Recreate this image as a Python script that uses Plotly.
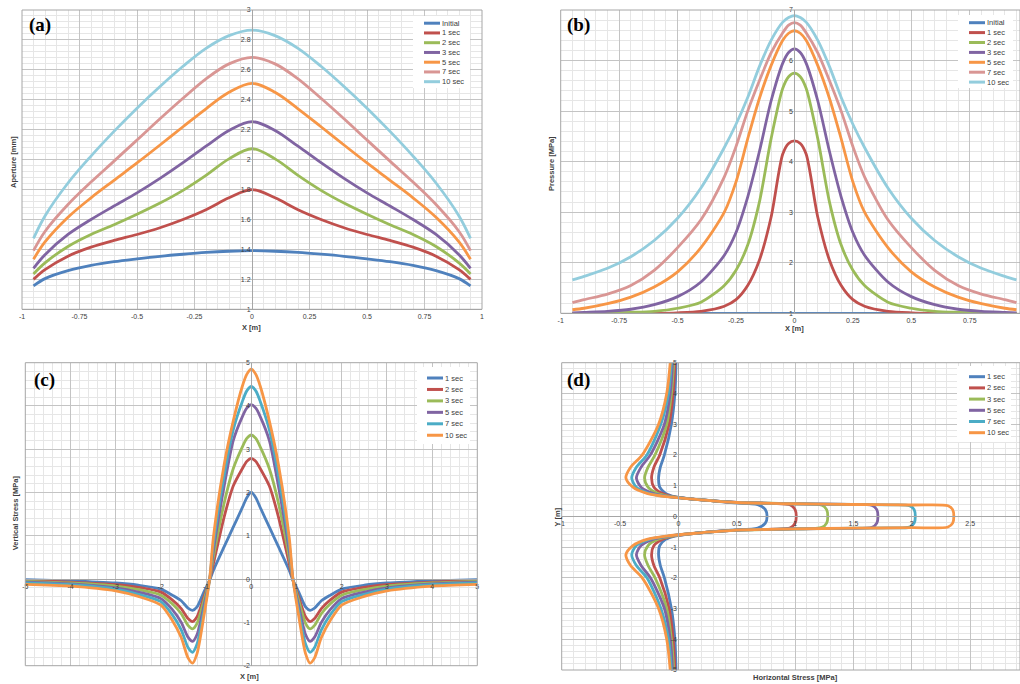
import plotly.graph_objects as go

W, H = 1020, 684

# ---------------- data ----------------
A_X = [-0.95, -0.9, -0.8, -0.7, -0.6, -0.5, -0.4, -0.3, -0.2, -0.1, 0,
       0.1, 0.2, 0.3, 0.4, 0.5, 0.6, 0.7, 0.8, 0.9, 0.95]
A_INITIAL = [1.156, 1.205, 1.258, 1.293, 1.318, 1.337, 1.354, 1.368, 1.380, 1.388, 1.392,
             1.388, 1.380, 1.368, 1.354, 1.337, 1.318, 1.293, 1.258, 1.205, 1.156]
A_1S = [1.20, 1.265, 1.355, 1.415, 1.46, 1.50, 1.545, 1.60, 1.665, 1.745, 1.80,
        1.745, 1.665, 1.60, 1.545, 1.50, 1.46, 1.415, 1.355, 1.265, 1.20]
A_2S = [1.236, 1.31, 1.42, 1.50, 1.565, 1.635, 1.71, 1.795, 1.895, 2.005, 2.073,
        2.005, 1.895, 1.795, 1.71, 1.635, 1.565, 1.50, 1.42, 1.31, 1.236]
A_3S = [1.274, 1.365, 1.50, 1.60, 1.69, 1.778, 1.875, 1.98, 2.09, 2.195, 2.254,
        2.195, 2.09, 1.98, 1.875, 1.778, 1.69, 1.60, 1.50, 1.365, 1.274]
A_5S = [1.334, 1.45, 1.615, 1.745, 1.862, 1.978, 2.098, 2.22, 2.34, 2.45, 2.51,
        2.45, 2.34, 2.22, 2.098, 1.978, 1.862, 1.745, 1.615, 1.45, 1.334]
A_7S = [1.392, 1.52, 1.70, 1.85, 1.99, 2.131, 2.273, 2.41, 2.54, 2.64, 2.684,
        2.64, 2.54, 2.41, 2.273, 2.131, 1.99, 1.85, 1.70, 1.52, 1.392]
A_10S = [1.474, 1.624, 1.844, 2.024, 2.189, 2.344, 2.489, 2.624, 2.744, 2.829, 2.866,
         2.829, 2.744, 2.624, 2.489, 2.344, 2.189, 2.024, 1.844, 1.624, 1.474]

B_X = [-0.95, -0.9, -0.8, -0.7, -0.6, -0.5, -0.4, -0.3, -0.25, -0.2, -0.15, -0.1, -0.05, -0.025, 0,
       0.025, 0.05, 0.1, 0.15, 0.2, 0.25, 0.3, 0.4, 0.5, 0.6, 0.7, 0.8, 0.9, 0.95]
B_INITIAL = [1.0] * 29
B_1S = [1.0, 1.0, 1.0, 1.0, 1.0, 1.01, 1.04, 1.14, 1.27, 1.55, 2.05, 2.9, 4.15, 4.36, 4.41,
        4.36, 4.15, 2.9, 2.05, 1.55, 1.27, 1.14, 1.04, 1.01, 1.0, 1.0, 1.0, 1.0, 1.0]
B_2S = [1.0, 1.0, 1.01, 1.02, 1.04, 1.1, 1.22, 1.55, 1.85, 2.35, 3.2, 4.45, 5.45, 5.68, 5.75,
        5.68, 5.45, 4.45, 3.2, 2.35, 1.85, 1.55, 1.22, 1.1, 1.04, 1.02, 1.01, 1.0, 1.0]
B_3S = [1.01, 1.02, 1.04, 1.08, 1.17, 1.33, 1.62, 2.15, 2.6, 3.3, 4.2, 5.2, 5.95, 6.16, 6.23,
        6.16, 5.95, 5.2, 4.2, 3.3, 2.6, 2.15, 1.62, 1.33, 1.17, 1.08, 1.04, 1.02, 1.01]
B_5S = [1.07, 1.1, 1.19, 1.32, 1.52, 1.82, 2.3, 3.0, 3.6, 4.45, 5.25, 5.9, 6.4, 6.54, 6.59,
        6.54, 6.4, 5.9, 5.25, 4.45, 3.6, 3.0, 2.3, 1.82, 1.52, 1.32, 1.19, 1.1, 1.07]
B_7S = [1.21, 1.27, 1.38, 1.55, 1.85, 2.3, 2.85, 3.7, 4.3, 5.0, 5.6, 6.15, 6.55, 6.7, 6.75,
        6.7, 6.55, 6.15, 5.6, 5.0, 4.3, 3.7, 2.85, 2.3, 1.85, 1.55, 1.38, 1.27, 1.21]
B_10S = [1.66, 1.73, 1.89, 2.12, 2.44, 2.88, 3.48, 4.28, 4.74, 5.27, 5.88, 6.4, 6.76, 6.85, 6.89,
         6.85, 6.76, 6.4, 5.88, 5.27, 4.74, 4.28, 3.48, 2.88, 2.44, 2.12, 1.89, 1.73, 1.66]

C_X = [-5, -4, -3, -2.5, -2, -1.75, -1.55, -1.4, -1.3, -1.2, -1.05, -0.92, -0.84, -0.6, -0.4, -0.2, -0.1, 0,
       0.1, 0.2, 0.4, 0.6, 0.84, 0.92, 1.05, 1.2, 1.3, 1.4, 1.55, 1.75, 2, 2.5, 3, 4, 5]
C_1S = [-0.01, -0.04, -0.09, -0.14, -0.23, -0.37, -0.5, -0.67, -0.72, -0.64, -0.3, -0.02, 0.2, 0.75, 1.2, 1.65, 1.88, 2.01,
        1.88, 1.65, 1.2, 0.75, 0.2, -0.02, -0.3, -0.64, -0.72, -0.67, -0.5, -0.37, -0.23, -0.14, -0.09, -0.04, -0.01]
C_2S = [-0.03, -0.07, -0.13, -0.19, -0.3, -0.48, -0.68, -0.91, -0.98, -0.87, -0.42, -0.01, 0.35, 1.44, 2.15, 2.55, 2.72, 2.79,
        2.72, 2.55, 2.15, 1.44, 0.35, -0.01, -0.42, -0.87, -0.98, -0.91, -0.68, -0.48, -0.3, -0.19, -0.13, -0.07, -0.03]
C_3S = [-0.05, -0.09, -0.16, -0.24, -0.37, -0.57, -0.8, -1.07, -1.15, -1.02, -0.5, 0.0, 0.5, 1.76, 2.55, 3.05, 3.25, 3.33,
        3.25, 3.05, 2.55, 1.76, 0.5, 0.0, -0.5, -1.02, -1.15, -1.07, -0.8, -0.57, -0.37, -0.24, -0.16, -0.09, -0.05]
C_5S = [-0.07, -0.11, -0.2, -0.3, -0.45, -0.7, -1.0, -1.34, -1.44, -1.28, -0.62, 0.0, 0.65, 2.15, 3.2, 3.75, 3.95, 4.03,
        3.95, 3.75, 3.2, 2.15, 0.65, 0.0, -0.62, -1.28, -1.44, -1.34, -1.0, -0.7, -0.45, -0.3, -0.2, -0.11, -0.07]
C_7S = [-0.09, -0.13, -0.23, -0.35, -0.52, -0.82, -1.17, -1.58, -1.69, -1.5, -0.74, 0.01, 0.8, 2.4, 3.45, 4.1, 4.35, 4.45,
        4.35, 4.1, 3.45, 2.4, 0.8, 0.01, -0.74, -1.5, -1.69, -1.58, -1.17, -0.82, -0.52, -0.35, -0.23, -0.13, -0.09]
C_10S = [-0.12, -0.16, -0.27, -0.4, -0.6, -0.95, -1.35, -1.82, -1.94, -1.72, -0.86, 0.02, 0.95, 2.65, 3.65, 4.45, 4.73, 4.85,
         4.73, 4.45, 3.65, 2.65, 0.95, 0.02, -0.86, -1.72, -1.94, -1.82, -1.35, -0.95, -0.6, -0.4, -0.27, -0.16, -0.12]

# panel (d): horizontal stress (x) along Y position (y), path top to bottom
D_1S_X = [-0.02, -0.03, -0.06, -0.12, -0.155, -0.17, -0.16, -0.11, -0.03,
          0.15, 0.45, 0.68, 0.745, 0.76, 0.745, 0.68, 0.45, 0.15,
          -0.03, -0.11, -0.16, -0.17, -0.155, -0.12, -0.06, -0.03, -0.02]
D_1S_Y = [5, 4, 3, 2, 1.6, 1.25, 0.95, 0.75, 0.64,
          0.55, 0.45, 0.38, 0.22, 0, -0.22, -0.38, -0.45, -0.55,
          -0.64, -0.75, -0.95, -1.25, -1.6, -2, -3, -4, -5]
D_2S_X = [-0.03, -0.045, -0.08, -0.16, -0.21, -0.23, -0.21, -0.14, -0.05,
          0.15, 0.5, 0.8, 0.96, 1.0, 1.01, 1.0, 0.96, 0.8, 0.5, 0.15,
          -0.05, -0.14, -0.21, -0.23, -0.21, -0.16, -0.08, -0.045, -0.03]
D_2S_Y = [5, 4, 3, 2, 1.6, 1.25, 0.95, 0.75, 0.64,
          0.55, 0.45, 0.42, 0.37, 0.22, 0, -0.22, -0.37, -0.42, -0.45, -0.55,
          -0.64, -0.75, -0.95, -1.25, -1.6, -2, -3, -4, -5]
D_3S_X = [-0.04, -0.06, -0.1, -0.2, -0.26, -0.29, -0.26, -0.18, -0.06,
          0.15, 0.5, 1.0, 1.23, 1.27, 1.28, 1.27, 1.23, 1.0, 0.5, 0.15,
          -0.06, -0.18, -0.26, -0.29, -0.26, -0.2, -0.1, -0.06, -0.04]
D_3S_Y = [5, 4, 3, 2, 1.6, 1.25, 0.95, 0.75, 0.64,
          0.55, 0.45, 0.41, 0.36, 0.22, 0, -0.22, -0.36, -0.41, -0.45, -0.55,
          -0.64, -0.75, -0.95, -1.25, -1.6, -2, -3, -4, -5]
D_5S_X = [-0.05, -0.07, -0.12, -0.24, -0.32, -0.36, -0.32, -0.22, -0.08,
          0.15, 0.5, 1.0, 1.45, 1.66, 1.70, 1.71, 1.70, 1.66, 1.45, 1.0, 0.5, 0.15,
          -0.08, -0.22, -0.32, -0.36, -0.32, -0.24, -0.12, -0.07, -0.05]
D_5S_Y = [5, 4, 3, 2, 1.6, 1.25, 0.95, 0.75, 0.64,
          0.55, 0.45, 0.41, 0.39, 0.355, 0.22, 0, -0.22, -0.355, -0.39, -0.41, -0.45, -0.55,
          -0.64, -0.75, -0.95, -1.25, -1.6, -2, -3, -4, -5]
D_7S_X = [-0.06, -0.085, -0.15, -0.27, -0.36, -0.40, -0.36, -0.25, -0.09,
          0.15, 0.5, 1.0, 1.5, 1.8, 1.98, 2.02, 2.03, 2.02, 1.98, 1.8, 1.5, 1.0, 0.5, 0.15,
          -0.09, -0.25, -0.36, -0.40, -0.36, -0.27, -0.15, -0.085, -0.06]
D_7S_Y = [5, 4, 3, 2, 1.6, 1.25, 0.95, 0.75, 0.64,
          0.55, 0.45, 0.41, 0.385, 0.375, 0.35, 0.22, 0, -0.22, -0.35, -0.375, -0.385, -0.41, -0.45, -0.55,
          -0.64, -0.75, -0.95, -1.25, -1.6, -2, -3, -4, -5]
D_10S_X = [-0.07, -0.1, -0.17, -0.31, -0.41, -0.45, -0.39, -0.27, -0.1,
           0.15, 0.5, 1.0, 1.5, 2.0, 2.31, 2.35, 2.36, 2.35, 2.31, 2.0, 1.5, 1.0, 0.5, 0.15,
           -0.1, -0.27, -0.39, -0.45, -0.41, -0.31, -0.17, -0.1, -0.07]
D_10S_Y = [5, 4, 3, 2, 1.6, 1.25, 0.95, 0.75, 0.64,
           0.55, 0.45, 0.41, 0.385, 0.37, 0.345, 0.22, 0, -0.22, -0.345, -0.37, -0.385, -0.41, -0.45, -0.55,
           -0.64, -0.75, -0.95, -1.25, -1.6, -2, -3, -4, -5]

NAMES_AB = ["Initial", "1 sec", "2 sec", "3 sec", "5 sec", "7 sec", "10 sec"]
COLORS_AB = ["#4F81BD", "#C0504D", "#9BBB59", "#8064A2", "#F79646", "#D99694", "#93CDDD"]
NAMES_CD = ["1 sec", "2 sec", "3 sec", "5 sec", "7 sec", "10 sec"]
COLORS_CD = ["#4F81BD", "#C0504D", "#9BBB59", "#8064A2", "#4BACC6", "#F79646"]

A_XTICKS = [-1, -0.75, -0.5, -0.25, 0, 0.25, 0.5, 0.75, 1]
A_XTEXT = ["-1", "-0.75", "-0.5", "-0.25", "0", "0.25", "0.5", "0.75", "1"]
A_YTICKS = [1, 1.2, 1.4, 1.6, 1.8, 2, 2.2, 2.4, 2.6, 2.8, 3]
A_YTEXT = ["1", "1.2", "1.4", "1.6", "1.8", "2", "2.2", "2.4", "2.6", "2.8", "3"]
B_YTICKS = [1, 2, 3, 4, 5, 6, 7]
B_YTEXT = ["1", "2", "3", "4", "5", "6", "7"]
C_XTICKS = [-5, -4, -3, -2, -1, 0, 1, 2, 3, 4, 5]
C_XTEXT = ["-5", "-4", "-3", "-2", "-1", "0", "1", "2", "3", "4", "5"]
C_YTICKS = [-2, -1, 0, 1, 2, 3, 4, 5]
C_YTEXT = ["-2", "-1", "0", "1", "2", "3", "4", "5"]
D_XTICKS = [-1, -0.5, 0, 0.5, 1, 1.5, 2, 2.5]
D_XTEXT = ["-1", "-0.5", "0", "0.5", "1", "1.5", "2", "2.5"]
D_YTICKS = [-5, -4, -3, -2, -1, 0, 1, 2, 3, 4, 5]
D_YTEXT = ["-5", "-4", "-3", "-2", "-1", "0", "1", "2", "3", "4", "5"]


def px(x):
    return x / W


def py(y):
    return 1 - y / H


fig = go.Figure()
LW = 2.8

for name, col, ys in zip(NAMES_AB, COLORS_AB, [A_INITIAL, A_1S, A_2S, A_3S, A_5S, A_7S, A_10S]):
    fig.add_trace(go.Scatter(x=A_X, y=ys, name=name, mode="lines",
                             line=dict(color=col, width=LW, shape="spline", smoothing=1.0),
                             xaxis="x", yaxis="y", showlegend=False))
for name, col, ys in zip(NAMES_AB, COLORS_AB, [B_INITIAL, B_1S, B_2S, B_3S, B_5S, B_7S, B_10S]):
    fig.add_trace(go.Scatter(x=B_X, y=ys, name=name, mode="lines",
                             line=dict(color=col, width=LW, shape="spline", smoothing=0.8),
                             xaxis="x2", yaxis="y2", showlegend=False))
for name, col, ys in zip(NAMES_CD, COLORS_CD, [C_1S, C_2S, C_3S, C_5S, C_7S, C_10S]):
    fig.add_trace(go.Scatter(x=C_X, y=ys, name=name, mode="lines",
                             line=dict(color=col, width=LW, shape="spline", smoothing=0.7),
                             xaxis="x3", yaxis="y3", showlegend=False))
D_SERIES = [(D_1S_X, D_1S_Y), (D_2S_X, D_2S_Y), (D_3S_X, D_3S_Y),
            (D_5S_X, D_5S_Y), (D_7S_X, D_7S_Y), (D_10S_X, D_10S_Y)]
for name, col, (xs, ys) in zip(NAMES_CD, COLORS_CD, D_SERIES):
    fig.add_trace(go.Scatter(x=xs, y=ys, name=name, mode="lines",
                             line=dict(color=col, width=LW, shape="spline", smoothing=0.8),
                             xaxis="x4", yaxis="y4", showlegend=False))

TICKFONT = dict(family="Liberation Sans", size=7, color="#404040")
MAJ = "#c4c4c4"
MIN = "#e6e6e6"


def ax(domain, rng, tickvals, ticktext, minor_dtick, **kw):
    d = dict(domain=domain, range=rng, tickmode="array", tickvals=tickvals, ticktext=ticktext,
             showgrid=True, gridcolor=MAJ, gridwidth=1, zeroline=False, automargin=False,
             tickfont=TICKFONT, showline=True, linecolor="#a6a6a6", linewidth=1,
             ticks="", fixedrange=True,
             minor=dict(tickmode="linear", tick0=rng[0], dtick=minor_dtick, showgrid=True,
                        gridcolor=MIN, gridwidth=1))
    d.update(kw)
    return d


# panel (a)
ax_dom = [px(22), px(482)]
ay_dom = [py(309.3), py(10)]
# panel (b)
bx_dom = [px(560.7), 1.0]
by_dom = [py(313.3), py(10)]
# panel (c)
cx_dom = [px(25.3), px(477.3)]
cy_dom = [py(665.7), py(362.7)]
# panel (d)
dx_dom = [px(561.7), 1.0]
dy_dom = [py(670), py(362.7)]

fig.update_layout(
    width=W, height=H, margin=dict(l=0, r=0, t=0, b=0, autoexpand=False),
    paper_bgcolor="white", plot_bgcolor="white", showlegend=False,
    xaxis=ax(ax_dom, [-1, 1], A_XTICKS, A_XTEXT, 0.05, anchor="y"),
    yaxis=ax(ay_dom, [1, 3], A_YTICKS, A_YTEXT, 0.04, anchor="free", position=px(252)),
    xaxis2=ax(bx_dom, [-1, 0.965], A_XTICKS, A_XTEXT, 0.05, anchor="y2"),
    yaxis2=ax(by_dom, [1, 7], B_YTICKS, B_YTEXT, 0.2, anchor="free", position=px(794.4)),
    xaxis3=ax(cx_dom, [-5, 5], C_XTICKS, C_XTEXT, 0.2, anchor="free", position=py(579.3)),
    yaxis3=ax(cy_dom, [-2, 5], C_YTICKS, C_YTEXT, 0.2, anchor="free", position=px(251.3)),
    xaxis4=ax(dx_dom, [-1, 2.927], D_XTICKS, D_XTEXT, 0.1, anchor="free", position=py(516.3)),
    yaxis4=ax(dy_dom, [-5, 5], D_YTICKS, D_YTEXT, 0.2, anchor="free", position=px(678.3)),
)

shapes = []
annotations = []
# plot-area borders
for xd, yd in [(ax_dom, ay_dom), (bx_dom, by_dom), (cx_dom, cy_dom), (dx_dom, dy_dom)]:
    shapes.append(dict(type="rect", xref="paper", yref="paper", x0=xd[0], x1=xd[1], y0=yd[0], y1=yd[1],
                       line=dict(color="#a6a6a6", width=1), layer="above"))


def legend(x0, y0, step, box, names, colors):
    shapes.append(dict(type="rect", xref="paper", yref="paper",
                       x0=px(box[0]), x1=px(box[1]), y0=py(box[3]), y1=py(box[2]),
                       fillcolor="white", line=dict(width=0), layer="above"))
    for i, (n, c) in enumerate(zip(names, colors)):
        yy = y0 + i * step
        shapes.append(dict(type="line", xref="paper", yref="paper",
                           x0=px(x0), x1=px(x0 + 16), y0=py(yy), y1=py(yy),
                           line=dict(color=c, width=3), layer="above"))
        annotations.append(dict(x=px(x0 + 15.5), y=py(yy), xref="paper", yref="paper", text=n,
                                showarrow=False, xanchor="left", yanchor="middle",
                                font=dict(family="Liberation Sans", size=7.5, color="#404040")))


legend(424, 23.2, 9.75, (413, 470, 16, 88), NAMES_AB, COLORS_AB)
legend(969, 22.7, 9.9, (958, 1013, 15, 88), NAMES_AB, COLORS_AB)
legend(427, 378, 11.45, (417, 470, 367, 444), NAMES_CD, COLORS_CD)
legend(969, 376.7, 11.2, (957, 1011, 366, 442), NAMES_CD, COLORS_CD)


def title(x, y, text, angle=0):
    annotations.append(dict(x=px(x), y=py(y), xref="paper", yref="paper", text="<b>" + text + "</b>",
                            showarrow=False, textangle=angle, xanchor="center", yanchor="middle",
                            font=dict(family="Liberation Sans", size=7.5, color="#404040")))


title(251.7, 327.5, "X [m]")
title(13.3, 161.7, "Aperture [mm]", -90)
title(794, 328, "X [m]")
title(551.7, 163.3, "Pressure [MPa]", -90)
title(249.3, 676.7, "X [m]")
title(15, 513.3, "Vertical Stress [MPa]", -90)
title(795, 677.5, "Horizontal Stress [MPa]")
title(557.7, 516.7, "Y [m]", -90)

for lab, x, y in [("(a)", 40, 25), ("(b)", 578, 25), ("(c)", 44, 380), ("(d)", 578, 380)]:
    annotations.append(dict(x=px(x), y=py(y), xref="paper", yref="paper", text="<b>" + lab + "</b>",
                            showarrow=False, xanchor="center", yanchor="middle",
                            font=dict(family="Liberation Serif", size=19, color="black")))

fig.update_layout(shapes=shapes, annotations=annotations)
fig.write_html("out.html", config={"displayModeBar": False},
               post_script="document.body.style.margin='0';document.body.style.padding='0';"
                           "document.body.style.overflow='hidden';")
